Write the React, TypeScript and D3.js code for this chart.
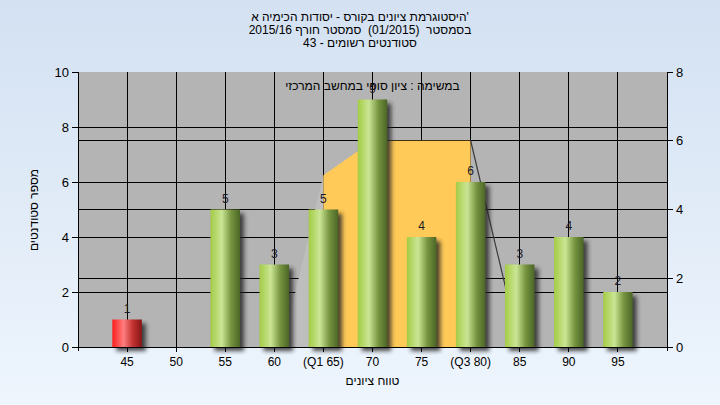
import React from 'react';
import * as d3 from 'd3';

const categories = ['45', '50', '55', '60', '(Q1 65)', '70', '75', '(Q3 80)', '85', '90', '95'];
const grades = [45, 50, 55, 60, 65, 70, 75, 80, 85, 90, 95];
const counts = [1, 0, 5, 3, 5, 9, 4, 6, 3, 4, 2];
const leftTicks = [0, 2, 4, 6, 8, 10];
const rightTicks = [0, 2, 4, 6, 8];
// box area (right axis)
const boxGrades = [65, 70, 80];
const boxValues = [5, 6, 6];
const lowWhiskerGrades = [60.8, 65];
const lowWhiskerValues = [0, 5];
const highWhiskerGrades = [80, 85];
const highWhiskerValues = [6, 0];

const titleLines = [
  "היסטוגרמת ציונים בקורס - יסודות הכימיה א'",
  'בסמסטר  (01/2015)  סמסטר חורף 2015/16',
  'סטודנטים רשומים - 43',
];
const legendText = 'במשימה : ציון סופי במחשב המרכזי';
const xTitle = 'טווח ציונים';
const yTitle = 'מספר סטודנטים';

const W = 720, H = 405;
const L = 78, R = 667, T = 72, B = 347;
const FONT = '"Liberation Sans", Arial, sans-serif';

export default function App() {
  const x = d3.scaleLinear().domain([40, 100]).range([L, R]);
  const yL = d3.scaleLinear().domain([0, 10]).range([B, T]);
  const yR = d3.scaleLinear().domain([0, 8]).range([B, T]);
  const bw = 29.5;

  const boxPts: [number, number][] = [
    [x(boxGrades[0]), yR(0)],
    ...boxGrades.map((g, i) => [x(g), yR(boxValues[i])] as [number, number]),
    [x(boxGrades[boxGrades.length - 1]), yR(0)],
  ];
  const lowPts: [number, number][] = [
    ...lowWhiskerGrades.map((g, i) => [x(g), yR(lowWhiskerValues[i])] as [number, number]),
    [x(lowWhiskerGrades[1]), yR(0)],
  ];
  const line = d3.line();
  const highLine = line(highWhiskerGrades.map((g, i) => [x(g), yR(highWhiskerValues[i])]));

  return (
    <svg width={W} height={H} style={{ position: 'absolute', left: 0, top: 0 }} fontFamily={FONT}>
      <defs>
        <linearGradient id="bg" x1="0" y1="0" x2="0" y2="1">
          <stop offset="0" stopColor="#d3e1f2" />
          <stop offset="1" stopColor="#eef5fd" />
        </linearGradient>
        <linearGradient id="green" x1="0" y1="0" x2="1" y2="0">
          <stop offset="0" stopColor="#a3cc45" />
          <stop offset="0.38" stopColor="#cbe595" />
          <stop offset="0.7" stopColor="#76943f" />
          <stop offset="1" stopColor="#4b6526" />
        </linearGradient>
        <linearGradient id="red" x1="0" y1="0" x2="1" y2="0">
          <stop offset="0" stopColor="#ff1c1c" />
          <stop offset="0.38" stopColor="#ff7e7e" />
          <stop offset="0.7" stopColor="#c23030" />
          <stop offset="1" stopColor="#861515" />
        </linearGradient>
        <filter id="blur" x="-50%" y="-50%" width="200%" height="200%">
          <feGaussianBlur stdDeviation="2" />
        </filter>
      </defs>
      <rect x={0} y={0} width={W} height={H} fill="url(#bg)" />
      {titleLines.map((t, i) => (
        <text key={i} x={W / 2} y={21 + i * 13} textAnchor="middle" fontSize={12} fill="#000" style={{ whiteSpace: 'pre' }}>{t}</text>
      ))}
      <rect x={L} y={T} width={R - L} height={B - T} fill="#b4b4b4" />
      {/* gridlines */}
      {leftTicks.filter(t => t > 0 && t < 10).map(t => (
        <line key={'gl' + t} x1={L} x2={R} y1={yL(t)} y2={yL(t)} stroke="#000" strokeWidth={1} shapeRendering="crispEdges" />
      ))}
      {rightTicks.filter(t => t > 0 && t < 8).map(t => (
        <line key={'gr' + t} x1={L} x2={R} y1={yR(t)} y2={yR(t)} stroke="#000" strokeWidth={1} shapeRendering="crispEdges" />
      ))}
      {grades.map(g => (
        <line key={'gv' + g} x1={x(g)} x2={x(g)} y1={T} y2={B} stroke="#000" strokeWidth={1} shapeRendering="crispEdges" />
      ))}
      {/* box / whiskers */}
      <polygon points={lowPts.map(p => p.join(',')).join(' ')} fill="#bebebe" />
      <polygon points={boxPts.map(p => p.join(',')).join(' ')} fill="#ffca58" />
      <path d={highLine || ''} stroke="#3a3a3a" strokeWidth={1.2} fill="none" />
      {/* bars */}
      {grades.map((g, i) => counts[i] > 0 && (
        <rect key={'s' + g} x={x(g) - bw / 2 + 4} y={yL(counts[i]) + 4} width={bw} height={B - yL(counts[i])}
          fill="#222" opacity={0.8} filter="url(#blur)" />
      ))}
      {grades.map((g, i) => counts[i] > 0 && (
        <rect key={'b' + g} x={x(g) - bw / 2} y={yL(counts[i])} width={bw} height={B - yL(counts[i])}
          fill={g < 55 ? 'url(#red)' : 'url(#green)'} />
      ))}
      <text x={(L + R) / 2} y={90} textAnchor="middle" fontSize={12} fill="#000">{legendText}</text>
      {grades.map((g, i) => counts[i] > 0 && (
        <text key={'v' + g} x={x(g)} y={yL(counts[i]) - 7} textAnchor="middle" fontSize={12} fill="#1a1a2a">{counts[i]}</text>
      ))}
      {/* axes */}
      <line x1={L} x2={L} y1={T} y2={B + 4} stroke="#000" shapeRendering="crispEdges" />
      <line x1={R} x2={R} y1={T} y2={B + 4} stroke="#000" shapeRendering="crispEdges" />
      <line x1={L} x2={R} y1={B} y2={B} stroke="#000" shapeRendering="crispEdges" />
      {leftTicks.map(t => (
        <g key={'lt' + t}>
          <line x1={L - 6} x2={L} y1={yL(t)} y2={yL(t)} stroke="#000" shapeRendering="crispEdges" />
          <text x={L - 9} y={yL(t) + 4.5} textAnchor="end" fontSize={13} fill="#000">{t}</text>
        </g>
      ))}
      {rightTicks.map(t => (
        <g key={'rt' + t}>
          <line x1={R} x2={R + 6} y1={yR(t)} y2={yR(t)} stroke="#000" shapeRendering="crispEdges" />
          <text x={R + 9} y={yR(t) + 4.5} textAnchor="start" fontSize={13} fill="#000">{t}</text>
        </g>
      ))}
      {grades.map((g, i) => (
        <g key={'xt' + g}>
          <line x1={x(g)} x2={x(g)} y1={B} y2={B + 5} stroke="#000" shapeRendering="crispEdges" />
          <text x={x(g)} y={366} textAnchor="middle" fontSize={12} fill="#000">{categories[i]}</text>
        </g>
      ))}
      <text x={(L + R) / 2} y={385} textAnchor="middle" fontSize={12} fill="#000">{xTitle}</text>
      <text transform={`translate(38,210) rotate(-90)`} textAnchor="middle" fontSize={12} fill="#000">{yTitle}</text>
    </svg>
  );
}
